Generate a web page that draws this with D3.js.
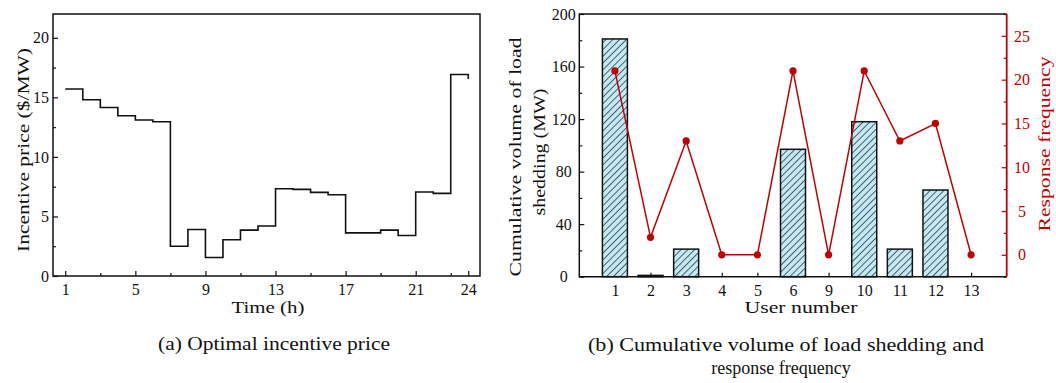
<!DOCTYPE html>
<html>
<head>
<meta charset="utf-8">
<script src="https://cdn.jsdelivr.net/npm/d3@7"></script>
<style>
  body { margin: 0; background: #fff; }
  text { font-family: "Liberation Serif", "Times New Roman", serif; }
</style>
</head>
<body>
<svg id="chart" width="1056" height="383"></svg>
<script>
// (a) optimal incentive price, one value per hour (step held until next hour)
const hours = d3.range(1, 25);
const price = [15.7, 14.8, 14.15, 13.45, 13.1, 12.95, 2.5, 3.9, 1.55, 3.05, 3.85, 4.2,
               7.33, 7.27, 7.02, 6.82, 3.62, 3.62, 3.85, 3.4, 7.05, 6.94, 16.92, 16.55];
const hourTicks = [1, 5, 9, 13, 17, 21, 24];
const hourMinor = [3, 7, 11, 15, 19, 23];
const priceTicks = [0, 5, 10, 15, 20];
const priceMinor = [2.5, 7.5, 12.5, 17.5];

// (b) cumulative load shedding + response frequency per user
const users = ['1', '2', '3', '4', '5', '6', '9', '10', '11', '12', '13'];
const shedding = [181, 1, 21, 0, 0, 97, 0, 118, 21, 66, 0];
const frequency = [21, 2, 13, 0, 0, 21, 0, 21, 13, 15, 0];
const shedTicks = [0, 40, 80, 120, 160, 200];
const shedMinor = [20, 60, 100, 140, 180];
const freqTicks = [0, 5, 10, 15, 20, 25];
const freqMinor = [-2.5, 2.5, 7.5, 12.5, 17.5, 22.5, 27.5];

const RED = '#c00000';
const svg = d3.select('#chart');

// hatch pattern for bars
const defs = svg.append('defs');
const pat = defs.append('pattern')
    .attr('id', 'hatch')
    .attr('patternUnits', 'userSpaceOnUse')
    .attr('width', 4.8).attr('height', 4.8)
    .attr('patternTransform', 'rotate(45)');
pat.append('rect').attr('width', 4.8).attr('height', 4.8).attr('fill', '#c2eaf6');
pat.append('line').attr('x1', 0).attr('y1', 0).attr('x2', 0).attr('y2', 4.8)
    .attr('stroke', '#000').attr('stroke-width', 1.2);

// helper: axis with no domain line, styled ticks
const styleAxis = (g, color) => {
    g.select('.domain').remove();
    g.selectAll('line').attr('stroke', color).attr('stroke-width', 1.2);
    g.selectAll('text').attr('fill', color).attr('font-size', 16)
        .attr('font-family', '"Liberation Serif", serif');
};

// titles are fitted to the widths measured on the reference (len = null keeps natural width)
const title = (x, y, txt, len, opts = {}) => {
    const t = svg.append('text')
        .attr('x', x).attr('y', y)
        .attr('text-anchor', 'middle')
        .attr('font-size', opts.size || 17)
        .attr('fill', opts.color || '#111')
        .text(txt);
    if (len) t.attr('textLength', len).attr('lengthAdjust', 'spacingAndGlyphs');
    if (opts.rotate) t.attr('transform', `rotate(-90,${x},${y})`);
    return t;
};

// ---------- chart (a) ----------
const A = { left: 53, right: 480, top: 14, bottom: 276 };
const xA = d3.scaleLinear().domain([0.3, 24.67]).range([A.left, A.right]);
const yA = d3.scaleLinear().domain([0, 22]).range([A.bottom, A.top]);

const gA = svg.append('g');
gA.append('g').attr('transform', `translate(0,${A.bottom})`)
    .call(d3.axisBottom(xA).tickValues(hourTicks).tickSize(-5).tickSizeOuter(0).tickPadding(7.5).tickFormat(d3.format('d')))
    .call(g => styleAxis(g, '#111'));
gA.append('g').attr('transform', `translate(0,${A.bottom})`)
    .call(d3.axisBottom(xA).tickValues(hourMinor).tickSize(-3).tickSizeOuter(0).tickFormat(''))
    .call(g => styleAxis(g, '#111'));
gA.append('g').attr('transform', `translate(${A.left},0)`)
    .call(d3.axisLeft(yA).tickValues(priceTicks).tickSize(-5).tickSizeOuter(0).tickPadding(4))
    .call(g => styleAxis(g, '#111'));
gA.append('g').attr('transform', `translate(${A.left},0)`)
    .call(d3.axisLeft(yA).tickValues(priceMinor).tickSize(-3).tickSizeOuter(0).tickFormat(''))
    .call(g => styleAxis(g, '#111'));

gA.append('rect')
    .attr('x', A.left).attr('y', A.top)
    .attr('width', A.right - A.left).attr('height', A.bottom - A.top)
    .attr('fill', 'none').attr('stroke', '#111').attr('stroke-width', 1.5);

const stepLine = d3.line()
    .x((d, i) => xA(hours[i]))
    .y(d => yA(d))
    .curve(d3.curveStepAfter);
gA.append('path').datum(price)
    .attr('d', stepLine)
    .attr('fill', 'none').attr('stroke', '#111').attr('stroke-width', 1.6);

title(268, 313, 'Time (h)', 73);
title(29, 150, 'Incentive price ($/MW)', 204, { rotate: true });
title(274, 350, '(a) Optimal incentive price', 232, { size: 18 });

// ---------- chart (b) ----------
const B = { left: 579.3, right: 1006.7, top: 14, bottom: 276.7 };
const xB = d3.scalePoint().domain(users).range([B.left, B.right]).padding(1);
const yL = d3.scaleLinear().domain([0, 200]).range([B.bottom, B.top]);
const yR = d3.scaleLinear().domain([-2.5, 27.5]).range([B.bottom, B.top]);

const gB = svg.append('g');
gB.append('g').attr('transform', `translate(0,${B.bottom})`)
    .call(d3.axisBottom(xB).tickSize(-4).tickSizeOuter(0).tickPadding(7.5))
    .call(g => styleAxis(g, '#111'));
gB.append('g').attr('transform', `translate(${B.left},0)`)
    .call(d3.axisLeft(yL).tickValues(shedTicks).tickSize(-5).tickSizeOuter(0).tickPadding(15.5))
    .call(g => styleAxis(g, '#111'))
    .call(g => g.selectAll('text').attr('text-anchor', 'middle'));
gB.append('g').attr('transform', `translate(${B.left},0)`)
    .call(d3.axisLeft(yL).tickValues(shedMinor).tickSize(-3).tickSizeOuter(0).tickFormat(''))
    .call(g => styleAxis(g, '#111'));
gB.append('g').attr('transform', `translate(${B.right},0)`)
    .call(d3.axisRight(yR).tickValues(freqTicks).tickSize(-5).tickSizeOuter(0).tickPadding(15.3))
    .call(g => styleAxis(g, RED))
    .call(g => g.selectAll('text').attr('text-anchor', 'middle'));
gB.append('g').attr('transform', `translate(${B.right},0)`)
    .call(d3.axisRight(yR).tickValues(freqMinor).tickSize(-3).tickSizeOuter(0).tickFormat(''))
    .call(g => styleAxis(g, RED));

// bars
const barW = 25;
gB.append('g').selectAll('rect')
    .data(users.map((u, i) => ({ u, v: shedding[i] })).filter(d => d.v > 0))
    .join('rect')
    .attr('x', d => xB(d.u) - barW / 2)
    .attr('y', d => yL(d.v))
    .attr('width', barW)
    .attr('height', d => yL(0) - yL(d.v))
    .attr('fill', 'url(#hatch)')
    .attr('stroke', '#111').attr('stroke-width', 1.5);

// frame: black top/left/bottom, red right
const frame = gB.append('g').attr('fill', 'none').attr('stroke-width', 1.5);
frame.append('path')
    .attr('d', `M${B.right},${B.top}H${B.left}V${B.bottom}H${B.right}`)
    .attr('stroke', '#111');
frame.append('line')
    .attr('x1', B.right).attr('x2', B.right).attr('y1', B.top).attr('y2', B.bottom)
    .attr('stroke', RED).attr('stroke-width', 1.8);

// frequency line
const freqLine = d3.line()
    .x((d, i) => xB(users[i]))
    .y(d => yR(d));
gB.append('path').datum(frequency)
    .attr('d', freqLine)
    .attr('fill', 'none').attr('stroke', RED).attr('stroke-width', 1.5);
gB.append('g').selectAll('circle')
    .data(frequency)
    .join('circle')
    .attr('cx', (d, i) => xB(users[i]))
    .attr('cy', d => yR(d))
    .attr('r', 3.6)
    .attr('fill', RED);

title(801, 313, 'User number', 113);
title(521, 157, 'Cumulative volume of load', 239, { rotate: true });
title(545, 152, 'shedding (MW)', 127, { rotate: true });
title(1050, 144, 'Response frequency', 175, { rotate: true, color: RED });
title(786, 351, '(b) Cumulative volume of load shedding and', 396, { size: 18 });
title(781, 374, 'response frequency', null, { size: 18 });
</script>
</body>
</html>
